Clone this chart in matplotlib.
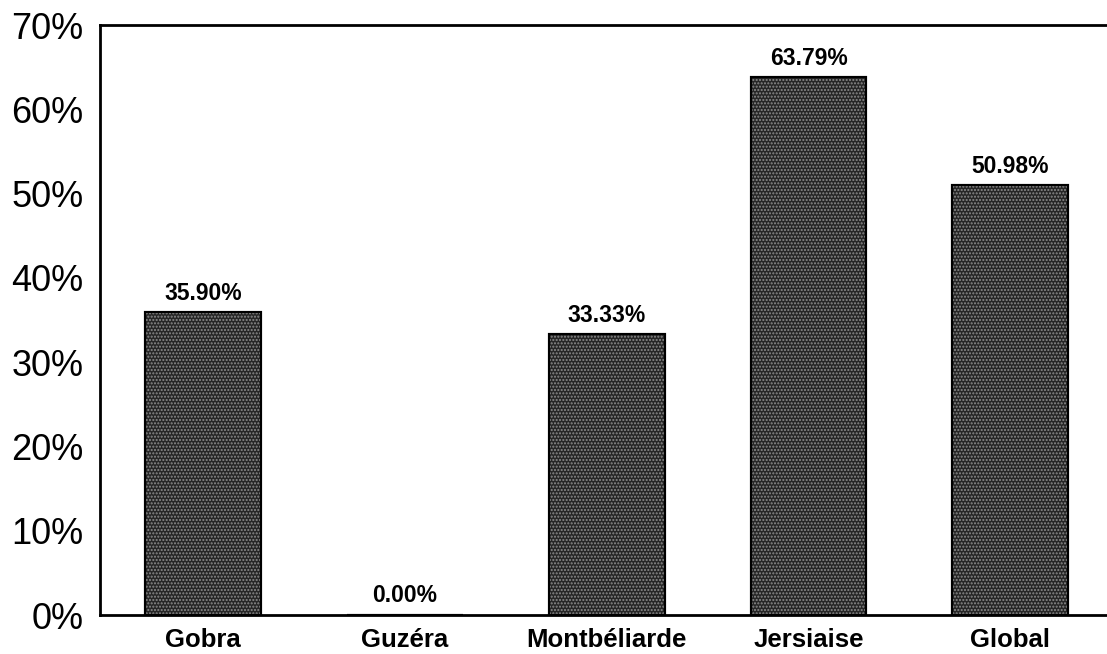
import numpy as np
import matplotlib.pyplot as plt
from matplotlib.ticker import FuncFormatter

breeds = ['Gobra', 'Guzéra', 'Montbéliarde', 'Jersiaise', 'Global']
rates = [35.90, 0.00, 33.33, 63.79, 50.98]
labels = ['35.90%', '0.00%', '33.33%', '63.79%', '50.98%']

plt.rcParams['font.family'] = ['Liberation Sans', 'DejaVu Sans']

fig = plt.figure(figsize=(11.07, 6.54), dpi=100)
ax = fig.add_axes([0.0903, 0.0596, 0.93, 0.902])

x = np.arange(len(breeds))
# dark fill with a light dot stipple on top
ax.bar(x, rates, width=0.574, color='#262626', edgecolor='black', linewidth=1.5, zorder=2)
ax.bar(x, rates, width=0.574, color='none', edgecolor='#8c8c8c', hatch='.....',
       linewidth=0, zorder=3)
ax.bar(x, rates, width=0.574, color='none', edgecolor='black', linewidth=1.5, zorder=4)

for xi, v, lab in zip(x, rates, labels):
    ax.text(xi, v + 0.9, lab, ha='center', va='bottom', fontsize=16.5, fontweight='bold')

ax.set_xlim(-0.51, 4.59)
ax.set_ylim(0, 70)
ax.set_yticks(np.arange(0, 71, 10))
ax.yaxis.set_major_formatter(FuncFormatter(lambda v, p: f'{v:.0f}%'))
ax.set_xticks(x)
ax.set_xticklabels(breeds, fontsize=18.5, fontweight='bold')
ax.tick_params(axis='y', length=0, labelsize=26, pad=12)
ax.tick_params(axis='x', length=0, pad=9)

for s in ['left', 'bottom', 'top']:
    ax.spines[s].set_linewidth(2)
ax.spines['right'].set_visible(False)

fig.savefig('out.png', dpi=100)
